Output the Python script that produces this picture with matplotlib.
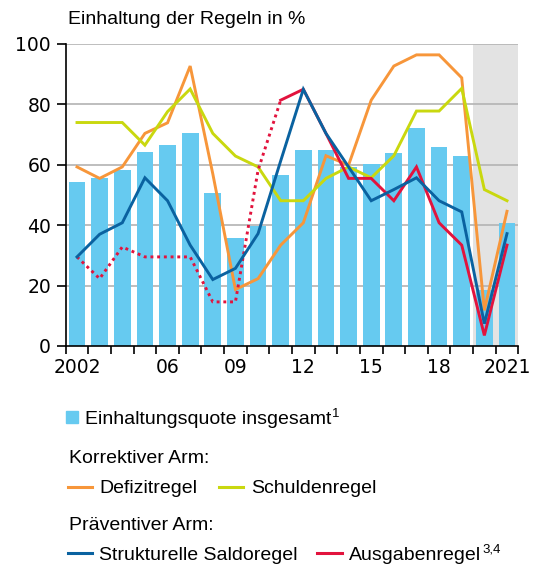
import numpy as np
import matplotlib
matplotlib.use('Agg')
import matplotlib.pyplot as plt
from matplotlib.lines import Line2D
from matplotlib.patches import Rectangle

plt.rcParams['font.family'] = ['Liberation Sans', 'DejaVu Sans']

# Einhaltung der Fiskalregeln, 2002-2021, in %
years = list(range(2002, 2022))
year_labels = ['2002', '', '', '', '06', '', '', '09', '', '', '12', '', '', '15',
               '', '', '18', '', '', '2021']

insgesamt = [54.3, 55.6, 58.2, 64.2, 66.5, 70.5, 50.6, 35.7, 39.8, 56.6,
             64.9, 64.9, 59.3, 60.2, 63.9, 72.2, 65.9, 62.9, 18.5, 40.7]
defizitregel = [59.3, 55.5, 59.3, 70.4, 73.9, 92.7, 57.0, 18.7, 22.3, 33.4,
                40.8, 63.0, 59.9, 81.4, 92.7, 96.4, 96.4, 88.8, 11.8, 44.6]
schuldenregel = [74.0, 74.0, 74.0, 66.5, 77.6, 85.1, 70.4, 62.9, 59.3, 48.1,
                 48.1, 55.5, 59.3, 55.7, 63.0, 77.8, 77.8, 85.3, 51.8, 48.1]
saldoregel = [29.5, 37.0, 40.8, 55.7, 48.1, 33.4, 22.0, 25.7, 37.2, 61.3,
              85.0, 70.4, 59.3, 48.1, 51.8, 55.7, 48.1, 44.4, 7.4, 37.2]
ausgabenregel = [29.5, 22.3, 32.8, 29.5, 29.5, 29.5, 14.6, 14.6, 58.2, 81.4,
                 85.0, 70.4, 55.5, 55.5, 48.1, 59.3, 40.8, 33.4, 3.5, 33.4]
# bis 2011 gepunktet dargestellt
ausgaben_bruch = 2011

c_bar = '#66caf0'
c_orange = '#f7963a'
c_green = '#c9d80f'
c_blue = '#0a62a0'
c_red = '#e2133d'
lw = 2.1

fig = plt.figure(figsize=(5.35, 5.67), dpi=100)
ax = fig.add_axes([0.1228, 0.3898, 0.8460, 0.5326])

x = np.arange(len(years))
k = years.index(ausgaben_bruch)

ax.axvspan(x[-2] - 0.5, x[-1] + 0.5, color='#e3e3e3', lw=0, zorder=0)
ax.bar(x, insgesamt, width=0.74, color=c_bar, zorder=2)

line_kw = dict(lw=lw, solid_joinstyle='miter', zorder=3)
ax.plot(x, defizitregel, color=c_orange, **line_kw)
ax.plot(x, schuldenregel, color=c_green, **line_kw)
ax.plot(x[:k + 1], ausgabenregel[:k + 1], color=c_red, lw=lw, ls=(0, (1, 1.3)),
        dash_capstyle='butt', zorder=3)
ax.plot(x[k:], ausgabenregel[k:], color=c_red, **line_kw)
ax.plot(x, saldoregel, color=c_blue, **line_kw)

ax.set_xlim(-0.5, len(years) - 0.5)
ax.set_ylim(0, 100)
ax.set_yticks(np.arange(0, 101, 20))
for yv in np.arange(20, 101, 20):
    ax.axhline(yv, color='#b3b3b3', lw=1.2, zorder=1)

ax.set_xticks(x)
ax.set_xticklabels(year_labels)
ax.set_xticks(np.arange(-0.5, len(years)), minor=True)
ax.tick_params(axis='x', which='major', length=0, pad=9)
ax.tick_params(axis='x', which='minor', length=6, width=1.2, direction='out')
ax.tick_params(axis='y', length=6.5, width=1.2, pad=4)
for lab in ax.get_xticklabels() + ax.get_yticklabels():
    lab.set_family('DejaVu Sans')
    lab.set_fontsize(13.5)

for s in ['top', 'right']:
    ax.spines[s].set_visible(False)
ax.spines['left'].set_linewidth(1.2)
ax.spines['bottom'].set_linewidth(1.2)
ax.spines['bottom'].set_zorder(4)

fs = 14
fig.text(0.1265, 0.9577, 'Einhaltung der Regeln in %', fontsize=fs, va='baseline')

# Legende
W, H = 535.0, 567.0
fig.patches.append(Rectangle((65.7 / W, 1 - 423 / H), 12 / W, 12.3 / H,
                             transform=fig.transFigure, color=c_bar))
t = fig.text(85 / W, 1 - 424.3 / H, 'Einhaltungsquote insgesamt', fontsize=fs, va='baseline')
fig.text(69.3 / W, 1 - 463.3 / H, 'Korrektiver Arm:', fontsize=fs, va='baseline')
fig.text(69.3 / W, 1 - 530 / H, 'Präventiver Arm:', fontsize=fs, va='baseline')


def legend_line(x0, x1, yline, ytext, color, label):
    fig.lines.append(Line2D([x0 / W, x1 / W], [1 - yline / H, 1 - yline / H],
                            transform=fig.transFigure, color=color, lw=2.2))
    return fig.text((x1 + 7.5) / W, 1 - ytext / H, label, fontsize=fs, va='baseline')


legend_line(67.7, 91.7, 486.7, 492.7, c_orange, 'Defizitregel')
legend_line(219, 243.3, 486.7, 492.7, c_green, 'Schuldenregel')
legend_line(67.7, 91.7, 553.3, 560, c_blue, 'Strukturelle Saldoregel')
t2 = legend_line(316.7, 341.7, 553.3, 560, c_red, 'Ausgabenregel')

# Fussnotenverweise hochgestellt, direkt hinter dem Text
fig.canvas.draw()
renderer = fig.canvas.get_renderer()
for txt, sup in [(t, '1'), (t2, '3,4')]:
    bb = txt.get_window_extent(renderer)
    x0, y0 = txt.get_position()
    fig.text((bb.x1 + 1) / W, y0 + 7 / H, sup, fontsize=9.5, va='baseline')

fig.savefig('out.png', dpi=100)
